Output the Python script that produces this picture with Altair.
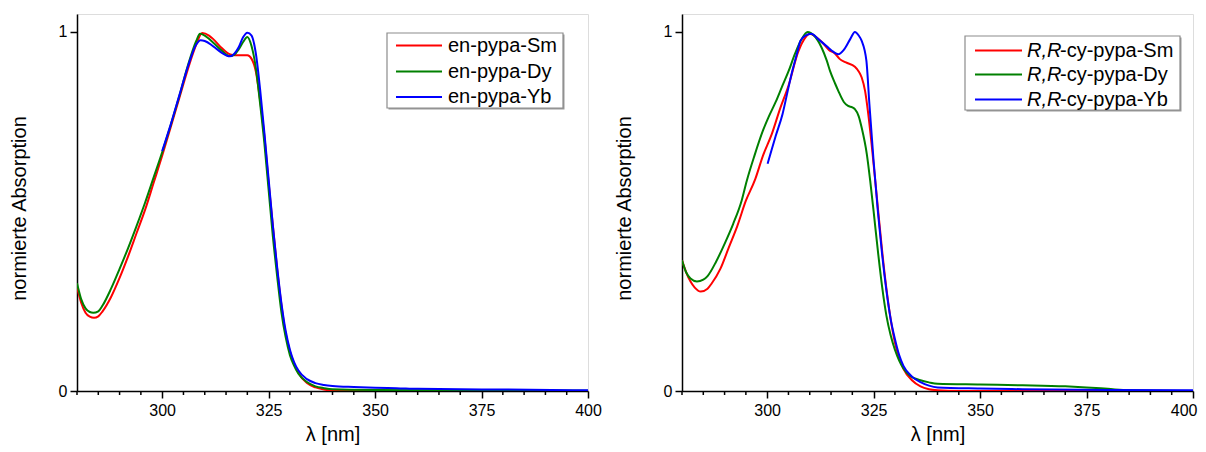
import altair as alt
import pandas as pd

FONT = "Liberation Sans"

# ---------------- data ----------------
X_MAJOR = [300, 325, 350, 375, 400]
X_MINOR = [280, 285, 290, 295, 305, 310, 315, 320, 330, 335, 340, 345, 355, 360, 365, 370, 380, 385, 390, 395]
Y_TICKS = [0, 1]

# left panel: en-pypa
L_NAMES = ["en-pypa-Sm", "en-pypa-Dy", "en-pypa-Yb"]
L_SM_X = [280, 281, 282, 283, 284, 285, 286, 288, 290, 292, 294, 296, 298, 300, 302, 304, 306, 308, 309.4, 311, 312,
          314, 316, 317, 318, 320, 321, 322, 323, 324, 325, 326, 327, 328, 329, 330, 331, 332, 334, 336, 338, 340, 350, 400]
L_SM_Y = [0.29, 0.245, 0.218, 0.207, 0.204, 0.208, 0.222, 0.262, 0.315, 0.375, 0.44, 0.505, 0.58, 0.655, 0.735, 0.815,
          0.895, 0.965, 0.997, 0.99, 0.98, 0.955, 0.937, 0.935, 0.935, 0.935, 0.925, 0.89, 0.81, 0.71, 0.58, 0.46, 0.34,
          0.24, 0.16, 0.11, 0.075, 0.05, 0.022, 0.01, 0.004, 0.001, 0.0, 0.0]
L_DY_X = [280, 281, 282, 283, 283.8, 285, 286, 288, 290, 292, 294, 296, 298, 300, 302, 304, 306, 308, 308.9, 310, 312,
          314, 315.9, 317, 318, 319, 320, 321, 322, 323, 324, 325, 326, 327, 328, 329, 330, 331, 332, 334, 336, 338, 340,
          350, 400]
L_DY_Y = [0.30, 0.255, 0.23, 0.22, 0.218, 0.222, 0.238, 0.285, 0.34, 0.398, 0.46, 0.525, 0.595, 0.665, 0.74, 0.82, 0.905,
          0.975, 0.995, 0.99, 0.97, 0.948, 0.933, 0.937, 0.952, 0.972, 0.986, 0.96, 0.90, 0.80, 0.69, 0.56, 0.43, 0.32,
          0.22, 0.15, 0.10, 0.07, 0.048, 0.025, 0.013, 0.008, 0.005, 0.003, 0.001]
L_YB_X = [300, 302, 304, 306, 308, 309, 310, 312, 314, 315.9, 317, 318, 319, 320, 321, 322, 323, 324, 325, 326, 327,
          328, 329, 330, 331, 332, 334, 336, 338, 340, 345, 350, 355, 360, 370, 380, 400]
L_YB_Y = [0.668, 0.742, 0.822, 0.902, 0.965, 0.977, 0.975, 0.96, 0.942, 0.932, 0.94, 0.958, 0.985, 0.998, 0.99, 0.94,
          0.84, 0.72, 0.59, 0.46, 0.345, 0.245, 0.168, 0.115, 0.08, 0.057, 0.033, 0.022, 0.017, 0.014, 0.011, 0.009,
          0.008, 0.006, 0.005, 0.004, 0.002]

# right panel: R,R-cy-pypa
R_NAMES = ["R,R-cy-pypa-Sm", "R,R-cy-pypa-Dy", "R,R-cy-pypa-Yb"]
R_SM_X = [280, 281, 282, 283, 284.4, 286, 287, 289, 291, 293, 295, 297.2, 299, 301.1, 303, 305, 307.3, 309, 310, 311,
          313, 314.5, 315.9, 317, 318.5, 320.6, 321.5, 322.2, 323, 323.7, 324.5, 325.3, 326, 327, 328, 329, 330, 331,
          332, 334, 336, 338, 340, 345, 400]
R_SM_Y = [0.364, 0.33, 0.305, 0.288, 0.277, 0.285, 0.30, 0.34, 0.40, 0.46, 0.53, 0.59, 0.655, 0.716, 0.785, 0.85, 0.945,
          0.985, 0.995, 0.99, 0.97, 0.95, 0.94, 0.925, 0.915, 0.903, 0.89, 0.873, 0.835, 0.775, 0.69, 0.595, 0.51, 0.39,
          0.285, 0.2, 0.135, 0.092, 0.062, 0.03, 0.013, 0.005, 0.002, 0.0, 0.0]
R_DY_X = [280, 281, 282, 283.5, 285, 286, 288, 290, 292, 294, 295.2, 297, 299, 300.3, 302, 303.4, 305, 306.5, 308,
          309.5, 311, 312.8, 314, 314.8, 316, 316.7, 318, 319, 320, 320.6, 321.5, 322.2, 323.4, 324.2, 325, 326, 327,
          328, 329, 330, 331, 332, 333.6, 336, 338, 340, 350, 360, 370, 375, 380, 385, 400]
R_DY_Y = [0.364, 0.33, 0.313, 0.305, 0.31, 0.32, 0.36, 0.41, 0.465, 0.53, 0.585, 0.655, 0.725, 0.762, 0.805, 0.845, 0.89,
          0.938, 0.978, 1.0, 0.99, 0.956, 0.92, 0.89, 0.855, 0.836, 0.805, 0.794, 0.79, 0.785, 0.765, 0.733, 0.66, 0.585,
          0.50, 0.39, 0.29, 0.21, 0.155, 0.115, 0.085, 0.063, 0.042, 0.03, 0.024, 0.02, 0.018, 0.016, 0.013, 0.01, 0.006,
          0.002, 0.0]
R_YB_X = [300.1, 301, 302, 303.6, 305, 305.9, 307, 307.8, 309, 310.4, 312, 314, 315.5, 316.7, 318, 319.5, 320.6, 321.5,
          322.2, 323.3, 324, 325, 326, 327, 328, 329, 330, 331, 332, 334, 336, 338, 340, 350, 360, 380, 400]
R_YB_Y = [0.633, 0.67, 0.71, 0.771, 0.845, 0.891, 0.94, 0.975, 0.99, 0.995, 0.98, 0.96, 0.945, 0.938, 0.95, 0.98, 1.0,
          0.99, 0.975, 0.92, 0.80, 0.64, 0.50, 0.38, 0.28, 0.20, 0.145, 0.10, 0.07, 0.04, 0.025, 0.015, 0.01, 0.007,
          0.005, 0.003, 0.002]

COLORS = ["#ff0000", "#008000", "#0000ff"]

X_TITLE = "λ [nm]"
Y_TITLE = "normierte Absorption"

W, H = 511, 377
LEG_FONT = 20
X_DOMAIN = [280, 400]


def frame(names, xs_list, ys_list):
    rows = []
    for name, xs, ys in zip(names, xs_list, ys_list):
        for x, y in zip(xs, ys):
            rows.append({"wl": x, "val": y, "series": name})
    return pd.DataFrame(rows)


def one_row():
    return pd.DataFrame({"k": [0]})


def legend_layers(names, box, line_x, rows_y, text_x, italic_prefix=None, normal_x=None):
    layers = [
        alt.Chart(one_row()).mark_rect(fill="#9a9a9a").encode(
            x=alt.value(box[0] + 1.5), x2=alt.value(box[1] + 1.5), y=alt.value(box[2] + 1.5),
            y2=alt.value(box[3] + 1.5)),
        alt.Chart(one_row()).mark_rect(fill="white", stroke="#8c8c8c", strokeWidth=1.2).encode(
            x=alt.value(box[0]), x2=alt.value(box[1]), y=alt.value(box[2]), y2=alt.value(box[3])),
    ]
    for name, col, ry in zip(names, COLORS, rows_y):
        layers.append(alt.Chart(one_row()).mark_rule(color=col, strokeWidth=2).encode(
            x=alt.value(line_x[0]), x2=alt.value(line_x[1]), y=alt.value(ry)))
        if italic_prefix:
            rest = name[len(italic_prefix):]
            layers.append(alt.Chart(one_row()).mark_text(
                align="left", baseline="middle", font=FONT, fontSize=LEG_FONT, fontStyle="italic", color="black"
            ).encode(x=alt.value(text_x), y=alt.value(ry), text=alt.value(italic_prefix)))
            layers.append(alt.Chart(one_row()).mark_text(
                align="left", baseline="middle", font=FONT, fontSize=LEG_FONT, color="black"
            ).encode(x=alt.value(normal_x), y=alt.value(ry), text=alt.value(rest)))
        else:
            layers.append(alt.Chart(one_row()).mark_text(
                align="left", baseline="middle", font=FONT, fontSize=LEG_FONT, color="black"
            ).encode(x=alt.value(text_x), y=alt.value(ry), text=alt.value(name)))
    return layers


def panel(df, names, leg, flush_last=False):
    x_kwargs = dict(labelFlush=False)
    if flush_last:
        x_kwargs = dict(labelFlush=True, labelFlushOffset=4)
    x_axis = alt.Axis(
        values=X_MAJOR, title=X_TITLE, grid=False, tickSize=7,
        labelOverlap=False, labelPadding=4,
        labelFont=FONT, labelFontSize=16, labelColor="black",
        titleFont=FONT, titleFontSize=20, titleFontWeight="normal", titleColor="black", titlePadding=6,
        domainColor="black", domainWidth=1.5, tickColor="black", tickWidth=1.5,
        **x_kwargs,
    )
    y_axis = alt.Axis(
        values=Y_TICKS, title=Y_TITLE, grid=False, tickSize=7, labelPadding=3, format="d",
        labelFont=FONT, labelFontSize=16, labelColor="black",
        titleFont=FONT, titleFontSize=20, titleFontWeight="normal", titleColor="black", titlePadding=29,
        titleY=194,
        domainColor="black", domainWidth=1.5, tickColor="black", tickWidth=1.5,
    )
    xscale = alt.Scale(domain=X_DOMAIN, nice=False, zero=False)
    lines = alt.Chart(df).mark_line(strokeWidth=2, interpolate="monotone", clip=True).encode(
        x=alt.X("wl:Q", scale=xscale, axis=x_axis, title=X_TITLE),
        y=alt.Y("val:Q", scale=alt.Scale(domain=[0, 1.05], nice=False), axis=y_axis, title=Y_TITLE),
        color=alt.Color("series:N", scale=alt.Scale(domain=names, range=COLORS), legend=None),
    )
    minor = alt.Chart(pd.DataFrame({"wl": X_MINOR})).mark_rule(color="black", strokeWidth=1.5).encode(
        x=alt.X("wl:Q", scale=xscale, axis=x_axis, title=X_TITLE),
        y=alt.value(H),
        y2=alt.value(H + 4),
    )
    return alt.layer(lines, minor, *leg).properties(width=W, height=H)


left_df = frame(L_NAMES, [L_SM_X, L_DY_X, L_YB_X], [L_SM_Y, L_DY_Y, L_YB_Y])
right_df = frame(R_NAMES, [R_SM_X, R_DY_X, R_YB_X], [R_SM_Y, R_DY_Y, R_YB_Y])

left_leg = legend_layers(L_NAMES, box=(310, 486, 19, 94), line_x=(319, 365), rows_y=(31.5, 57.5, 83),
                         text_x=371)
right_leg = legend_layers(R_NAMES, box=(283, 498, 22, 96), line_x=(293, 340), rows_y=(36.5, 60.5, 85.5),
                          text_x=345, italic_prefix="R,R", normal_x=378)

chart = alt.hconcat(
    panel(left_df, L_NAMES, left_leg),
    panel(right_df, R_NAMES, right_leg, flush_last=True),
    spacing=11,
).properties(
    padding={"left": 0, "top": 5, "right": 0, "bottom": 0}
).configure_view(stroke=None).configure(background="white")

chart.save("out.html", embed_options={"renderer": "svg", "actions": False})
